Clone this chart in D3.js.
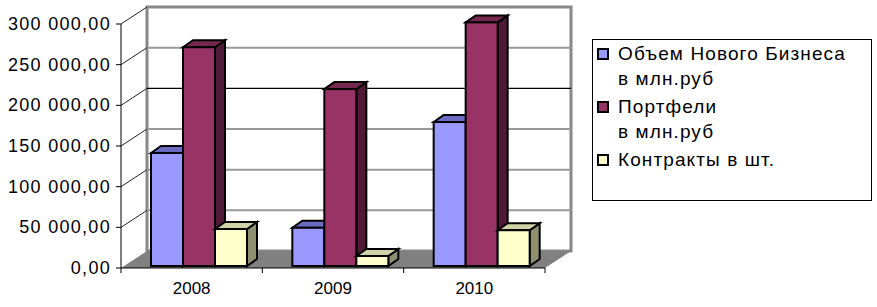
<!DOCTYPE html>
<html>
<head>
<meta charset="utf-8">
<script src="https://cdn.jsdelivr.net/npm/d3@7"></script>
<style>
  body { margin: 0; background: #fff; }
  text { font-family: Arial, "Liberation Sans", sans-serif; fill: #000; }
</style>
</head>
<body>
<div id="chart"></div>
<script>
// data
const years = ["2008", "2009", "2010"];
const seriesNames = ["Объем Нового Бизнеса\nв млн.руб", "Портфели\nв млн.руб", "Контракты в шт."];
const newBusiness = [139000, 47000, 177000];
const portfolios = [269000, 217500, 299500];
const contracts = [45500, 12300, 44000];
const yTicks = [0, 50000, 100000, 150000, 200000, 250000, 300000];

const seriesValues = [newBusiness, portfolios, contracts];
// front face, top face, side face
const seriesColors = [
    ["#9999ff", "#6b6bc4", "#4d4d99"],
    ["#993366", "#772850", "#4f1a35"],
    ["#ffffcc", "#d2d2a8", "#8f8f72"]
];

const width = 877, height = 307;
const depth = { dx: 26, dy: -17 };   // wall depth
const barShift = { dx: 3, dy: -2 };  // bars sit a little behind the front plane
const barDepth = { dx: 10, dy: -7 };

const svg = d3.select("#chart").append("svg")
    .attr("width", width)
    .attr("height", height);

const y = d3.scaleLinear().domain([0, 300000]).range([268, 24]);
const x0 = d3.scaleBand().domain(years).range([121, 545]);
const x1 = d3.scaleBand().domain(d3.range(seriesValues.length)).range([27, 123]);

const left = x0.range()[0], right = x0.range()[1];
const fmt = d3.formatLocale({ decimal: ",", thousands: "\u00a0", grouping: [3] }).format(",.2f");

// back wall
svg.append("rect")
    .attr("x", left + depth.dx).attr("y", y(300000) + depth.dy)
    .attr("width", right - left).attr("height", y(0) - y(300000))
    .attr("fill", "#fff").attr("stroke", "#888").attr("stroke-width", 3);

// gridlines on back wall
svg.selectAll(".grid")
    .data(yTicks.filter(d => d > 0 && d < 300000))
    .join("line")
    .attr("x1", left + depth.dx).attr("x2", right + depth.dx)
    .attr("y1", d => y(d) + depth.dy).attr("y2", d => y(d) + depth.dy)
    .attr("stroke", d => d === 200000 ? "#000" : "#999")
    .attr("stroke-width", d => d === 200000 ? 1.3 : 2);

// left side wall lines
svg.selectAll(".side")
    .data(yTicks.filter(d => d > 0))
    .join("line")
    .attr("x1", left).attr("y1", d => y(d))
    .attr("x2", left + depth.dx).attr("y2", d => y(d) + depth.dy)
    .attr("stroke", "#222").attr("stroke-width", 1);

// floor
svg.append("polygon")
    .attr("points", [
        [left, y(0)], [right, y(0)],
        [right + depth.dx, y(0) + depth.dy], [left + depth.dx, y(0) + depth.dy]
    ].join(" "))
    .attr("fill", "#808080");

// y axis
svg.append("line")
    .attr("x1", left).attr("x2", left)
    .attr("y1", y(300000)).attr("y2", y(0))
    .attr("stroke", "#000");
svg.selectAll(".ytick")
    .data(yTicks)
    .join("line")
    .attr("x1", left - 5).attr("x2", left)
    .attr("y1", d => y(d)).attr("y2", d => y(d))
    .attr("stroke", "#000");
svg.selectAll(".ylabel")
    .data(yTicks)
    .join("text")
    .attr("x", 111).attr("y", d => y(d) + 6)
    .attr("text-anchor", "end")
    .attr("font-size", 18)
    .attr("letter-spacing", 1.3)
    .text(d => fmt(d));

// x axis
svg.append("line")
    .attr("x1", left).attr("x2", right)
    .attr("y1", y(0)).attr("y2", y(0))
    .attr("stroke", "#000");
svg.selectAll(".xtick")
    .data([left].concat(years.map(d => x0(d) + x0.bandwidth())))
    .join("line")
    .attr("x1", d => d).attr("x2", d => d)
    .attr("y1", y(0)).attr("y2", y(0) + 5)
    .attr("stroke", "#000");
svg.selectAll(".xlabel")
    .data(years)
    .join("text")
    .attr("x", d => x0(d) + x0.bandwidth() / 2)
    .attr("y", 294)
    .attr("text-anchor", "middle")
    .attr("font-size", 17)
    .text(d => d);

// bars
const bars = [];
years.forEach((yr, i) => {
    seriesValues.forEach((vals, s) => {
        bars.push({ year: yr, s: s, value: vals[i] });
    });
});

const barG = svg.selectAll(".bar")
    .data(bars)
    .join("g")
    .attr("class", "bar");

barG.each(function (d) {
    const g = d3.select(this);
    const xl = x0(d.year) + x1(d.s) + barShift.dx;
    const xr = xl + x1.bandwidth();
    const yb = y(0) + barShift.dy;
    const yt = y(d.value) + barShift.dy;
    const c = seriesColors[d.s];
    const common = sel => sel.attr("stroke", "#000").attr("stroke-width", 2).attr("stroke-linejoin", "miter");

    g.append("polygon")
        .attr("points", [[xr, yt], [xr + barDepth.dx, yt + barDepth.dy],
            [xr + barDepth.dx, yb + barDepth.dy], [xr, yb]].join(" "))
        .attr("fill", c[2]).call(common);
    g.append("polygon")
        .attr("points", [[xl, yt], [xl + barDepth.dx, yt + barDepth.dy],
            [xr + barDepth.dx, yt + barDepth.dy], [xr, yt]].join(" "))
        .attr("fill", c[1]).call(common);
    g.append("rect")
        .attr("x", xl).attr("y", yt)
        .attr("width", xr - xl).attr("height", yb - yt)
        .attr("fill", c[0]).call(common);
});

// legend
const legend = svg.append("g");
legend.append("rect")
    .attr("x", 592.5).attr("y", 39.5)
    .attr("width", 279).attr("height", 161)
    .attr("fill", "#fff").attr("stroke", "#000");

const itemBase = [60, 113, 166];
seriesNames.forEach((name, s) => {
    legend.append("rect")
        .attr("x", 598).attr("y", itemBase[s] - 11)
        .attr("width", 10).attr("height", 10)
        .attr("fill", seriesColors[s][0])
        .attr("stroke", "#000").attr("stroke-width", 2);
    const t = legend.append("text")
        .attr("x", 618).attr("y", itemBase[s])
        .attr("font-size", 19)
        .attr("letter-spacing", 1.1);
    name.split("\n").forEach((line, k) => {
        t.append("tspan").attr("x", 618).attr("y", itemBase[s] + k * 25).text(line);
    });
});
</script>
</body>
</html>
